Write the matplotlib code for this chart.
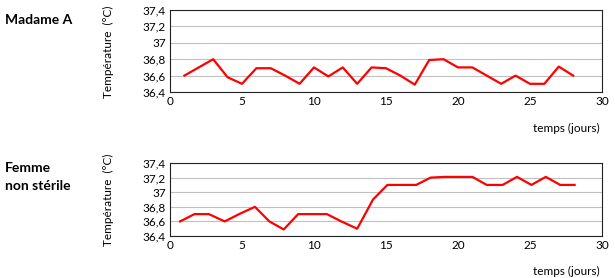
import matplotlib.pyplot as plt
import matplotlib.ticker as mticker

plt.rcParams['font.family'] = ['Lato', 'DejaVu Sans']

# Madame A
jours_a = list(range(1, 29))
temp_a = [36.6, 36.7, 36.8, 36.58, 36.5, 36.69, 36.69, 36.6, 36.5, 36.7,
          36.59, 36.7, 36.5, 36.7, 36.69, 36.6, 36.49, 36.79, 36.8, 36.7,
          36.7, 36.6, 36.5, 36.6, 36.5, 36.5, 36.71, 36.6]

# Femme non stérile
jours_b = [0.7, 1.7, 2.7, 3.8, 4.8, 5.9, 6.9, 7.9, 8.9, 9.9, 10.9, 11.9,
           13.0, 14.1, 15.1, 16.1, 17.1, 18.1, 19.1, 20.1, 21.0, 22.0,
           23.1, 24.1, 25.1, 26.1, 27.1, 28.1]
temp_b = [36.6, 36.7, 36.7, 36.6, 36.7, 36.8, 36.6, 36.49, 36.7, 36.7,
          36.7, 36.6, 36.5, 36.9, 37.1, 37.1, 37.1, 37.2, 37.21, 37.21,
          37.21, 37.1, 37.1, 37.21, 37.1, 37.21, 37.1, 37.1]

yticks = [36.4, 36.6, 36.8, 37.0, 37.2, 37.4]
xticks = [0, 5, 10, 15, 20, 25, 30]

fig = plt.figure(figsize=(6.15, 2.78), dpi=100)
ax1 = fig.add_axes([0.2764, 0.669, 0.7024, 0.295])
ax2 = fig.add_axes([0.2764, 0.151, 0.7024, 0.2626])


def fmt(v, pos):
    s = ('%.1f' % v).replace('.', ',')
    return s[:-2] if s.endswith(',0') else s


for ax, x, y in [(ax1, jours_a, temp_a), (ax2, jours_b, temp_b)]:
    ax.plot(x, y, color='#ff0000', lw=1.6)
    ax.set_xlim(0, 30)
    ax.set_ylim(36.4, 37.4)
    ax.set_xticks(xticks)
    ax.set_yticks(yticks)
    ax.yaxis.set_major_formatter(mticker.FuncFormatter(fmt))
    ax.grid(axis='y', color='#c0c0c0', lw=0.8)
    ax.set_axisbelow(True)
    ax.tick_params(length=0, labelsize=8.5, pad=3)
    for sp in ax.spines.values():
        sp.set_color('#222222')
        sp.set_linewidth(0.8)

fig.text(600 / 615, 1 - 128 / 278, 'temps (jours)', ha='right', va='center', fontsize=8.5)
fig.text(600 / 615, 1 - 271 / 278, 'temps (jours)', ha='right', va='center', fontsize=8.5)
fig.text(108 / 615, 1 - 52 / 278, 'Température  (°C)', rotation=90, ha='center', va='center', fontsize=8.5)
fig.text(108 / 615, 1 - 200 / 278, 'Température  (°C)', rotation=90, ha='center', va='center', fontsize=8.5)

fig.text(5 / 615, 1 - 20 / 278, 'Madame A', ha='left', va='center', fontsize=10, fontweight='bold')
fig.text(5 / 615, 1 - 177 / 278, 'Femme\nnon stérile', ha='left', va='center', fontsize=10,
         fontweight='bold', linespacing=1.5)

fig.savefig('out.png', dpi=100)
